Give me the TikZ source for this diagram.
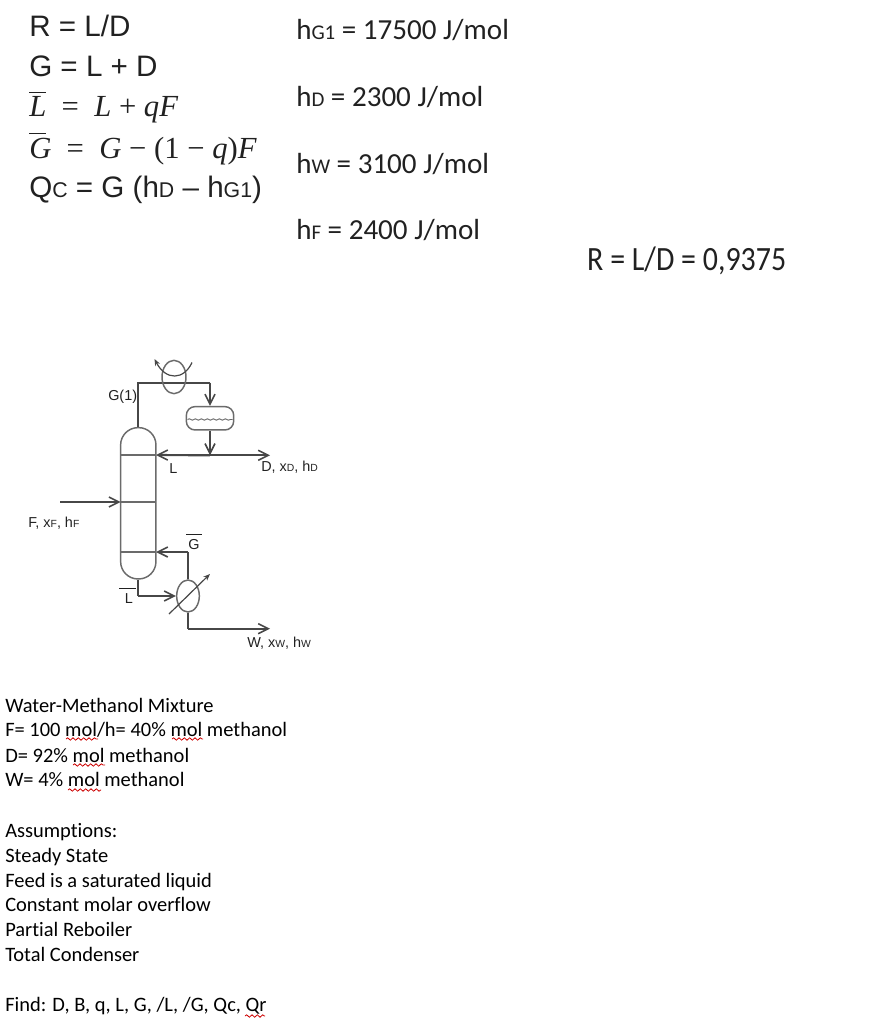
\documentclass[tikz,border=0pt]{standalone}
\usepackage{fontspec}
\setmainfont{Liberation Sans}
\newfontfamily\carl[Ligatures=NoCommon]{Carlito}
\newfontfamily\ser{Liberation Serif}
\usetikzlibrary{shapes.geometric,arrows.meta,decorations.pathmorphing}
\definecolor{pipe}{gray}{0.28}
\definecolor{vessel}{gray}{0.42}
\definecolor{ink}{gray}{0.13}
\tikzset{
 x=0.75pt,y=-0.75pt,
 big/.style={anchor=base west,inner sep=0,font=\fontsize{22.2}{24}\selectfont,text=ink},
 hval/.style={anchor=base west,inner sep=0,font=\carl\fontsize{21.8}{24}\selectfont,text=ink},
 mth/.style={anchor=base west,inner sep=0,font=\ser\itshape\fontsize{23}{24}\selectfont,text=ink},
 cal/.style={anchor=base west,inner sep=0,font=\carl\fontsize{15.35}{18}\selectfont,text=black},
 lab/.style={anchor=base west,inner sep=0,font=\fontsize{10.8}{12}\selectfont,text=ink},
 pipeline/.style={draw=pipe,line width=1.6pt},
 flow/.style={pipeline,-{Straight Barb[length=7.5pt,width=7.5pt,line width=1.2pt]}},
 vesselline/.style={draw=vessel,line width=1.1pt},
 exch/.style={ellipse,draw=vessel,line width=1.1pt,fill=white,inner sep=0},
 wave/.style={draw=red!80!black,line width=0.6pt,decorate,decoration={snake,amplitude=0.9pt,segment length=4pt}},
}
\newcommand{\sbs}[1]{{\fontsize{0.72em}{1em}\selectfont #1}}
\newcommand{\barred}[1]{\raisebox{0pt}[0pt][0pt]{\rule[0.78em]{0.55em}{0.8pt}\kern-0.55em}#1}
\begin{document}
\begin{tikzpicture}
\useasboundingbox (0,0) rectangle (894,1024);
% formulas
\node[big] (f1) at (29,37) {R = L/D};
\node[big] (f2) at (29,76) {G = L + D};
\node[mth] (f3) at (29,117) {\barred{L}~~{\upshape =}~~L~{\upshape +}~qF};
\node[mth] (f4) at (29,158) {\barred{G}~~{\upshape =}~~G~{\upshape −}~{\upshape (1}~{\upshape −}~q{\upshape )}F};
\node[big] (f5) at (29,197) {Q\sbs{C} = G (h\sbs{D} -- h\sbs{G1})};
\node[hval] (h1) at (296,40) {h\sbs{G1} = 17500 J/mol};
\node[hval] (h2) at (296,106.5) {h\sbs{D} = 2300 J/mol};
\node[hval] (h3) at (296,173) {h\sbs{W} = 3100 J/mol};
\node[hval] (h4) at (296,239) {h\sbs{F} = 2400 J/mol};
\node[anchor=base west,inner sep=0,xscale=0.88,font=\carl\fontsize{25.5}{28}\selectfont,text=ink] (r) at (587,270) {R = L/D = 0,9375};
% column
\node[draw=vessel,line width=1.1pt,rectangle,rounded corners=13pt,minimum width=26.5pt,minimum height=113.5pt,inner sep=0] (col) at (138.3,503.3) {};
\coordinate (t1w) at (120.7,455); \coordinate (t1e) at (156,455);
\coordinate (t2w) at (120.7,502); \coordinate (t2e) at (156,502);
\coordinate (t3w) at (120.7,552); \coordinate (t3e) at (156,552);
\draw[vesselline] (t1w) -- (t1e);
\draw[vesselline] (t2w) -- (t2e);
\draw[vesselline] (t3w) -- (t3e);
% overhead
\coordinate (topbend) at (138.3,382.7);
\coordinate (cond) at (174,377);
\coordinate (drumtopbend) at (210,382.7);
\node[draw=vessel,line width=1.1pt,rectangle,rounded corners=6.5pt,minimum width=35.5pt,minimum height=17.5pt,inner sep=0] (drum) at (210,418.3) {};
\coordinate (junc) at (210,455.3);
\coordinate (dout) at (270,455.3);
\draw[pipeline] (col.north) -- (topbend) -- (drumtopbend);
\draw[flow] (drumtopbend) -- (drum.north);
\node[exch,minimum width=18pt,minimum height=25pt,fill=none] (condenser) at (cond) {};
\coordinate (cw1) at (192,362.5); \coordinate (cw2) at (154.5,359);
\draw[draw=pipe,line width=0.9pt,-{Stealth[length=5pt,width=4pt]}] (cw1) .. controls (184,380) and (166,381) .. (cw2);
\coordinate (wl) at (187.5,419.5); \coordinate (wr) at (232.5,419.5);
\draw[draw=vessel,line width=0.7pt,decorate,decoration={snake,amplitude=0.5pt,segment length=4.5pt}] (wl) -- (wr);
\draw[flow] (drum.south) -- (junc);
\draw[flow] (junc) -- (dout);
\draw[flow] (junc) -- (t1e);
% feed
\coordinate (feed) at (60,502);
\draw[flow] (feed) -- (t2w);
% bottom
\node[exch,minimum width=17pt,minimum height=24pt] (reb) at (188,596) {};
\coordinate (botbend) at (138.3,596);
\coordinate (rebtop) at (188,552);
\coordinate (rebbot) at (188,628.7);
\coordinate (wout) at (270,628.7);
\draw[pipeline] (col.south) -- (botbend);
\draw[flow] (botbend) -- (reb.west);
\draw[pipeline] (reb.north) -- (rebtop);
\draw[flow] (rebtop) -- (t3e);
\draw[pipeline] (reb.south) -- (rebbot);
\draw[flow] (rebbot) -- (wout);
\coordinate (ra) at (169,614); \coordinate (rb) at (210,574);
\draw[draw=pipe,line width=0.9pt,-{Stealth[length=5pt,width=4pt]}] (ra) -- (rb);
% labels
\node[lab] (lg1) at (108,400) {G(1)};
\node[lab] (ll) at (169,473) {L};
\node[lab] (ld) at (261,471) {D, x\sbs{D}, h\sbs{D}};
\node[lab] (lf) at (28,527.5) {F, x\sbs{F}, h\sbs{F}};
\node[lab] (lgb) at (188,549) {G};
\coordinate (gb1) at (186,534.5); \coordinate (gb2) at (202,534.5);
\draw[draw=ink,line width=0.6pt] (gb1) -- (gb2);
\node[lab] (llb) at (124.5,603) {L};
\coordinate (lb1) at (119,588.5); \coordinate (lb2) at (136,588.5);
\draw[draw=ink,line width=0.6pt] (lb1) -- (lb2);
\node[lab] (lw) at (247,647) {W, x\sbs{W}, h\sbs{W}};
% text
\node[cal] (a1) at (5,712) {Water-Methanol Mixture};
\node[cal] (a2) at (5,736) {F= 100 mol/h= 40\% mol methanol};
\node[cal] (a3) at (5,762) {D= 92\% mol methanol};
\node[cal] (a4) at (5,786) {W= 4\% mol methanol};
\node[cal] (b1) at (5,837) {Assumptions:};
\node[cal] (b2) at (5,862) {Steady State};
\node[cal] (b3) at (5,887) {Feed is a saturated liquid};
\node[cal] (b4) at (5,911) {Constant molar overflow};
\node[cal] (b5) at (5,936) {Partial Reboiler};
\node[cal] (b6) at (5,961) {Total Condenser};
\node[cal] (c1) at (5,1011) {Find: D, B, q, L, G, /L, /G, Qc, Qr};
% squiggles
\coordinate (s1a) at (66,739); \coordinate (s1b) at (98,739);
\coordinate (s2a) at (172,739); \coordinate (s2b) at (203,739);
\coordinate (s3a) at (73,765); \coordinate (s3b) at (105,765);
\coordinate (s4a) at (68,790); \coordinate (s4b) at (101,790);
\coordinate (s5a) at (245,1016); \coordinate (s5b) at (265,1016);
\draw[wave] (s1a) -- (s1b);
\draw[wave] (s2a) -- (s2b);
\draw[wave] (s3a) -- (s3b);
\draw[wave] (s4a) -- (s4b);
\draw[wave] (s5a) -- (s5b);
\end{tikzpicture}
\end{document}
